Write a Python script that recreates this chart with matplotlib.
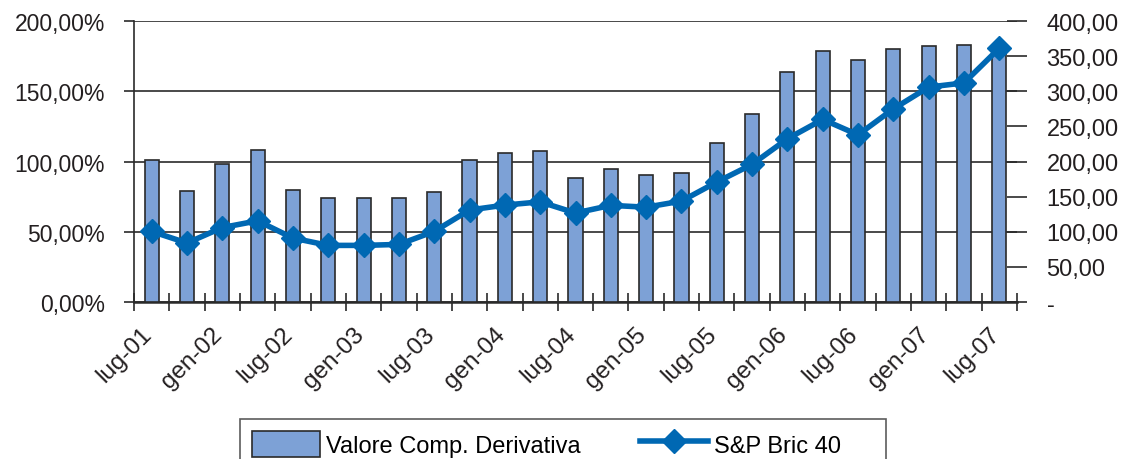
import matplotlib.pyplot as plt
from matplotlib.lines import Line2D
from matplotlib.patches import Patch
from matplotlib.transforms import ScaledTranslation

plt.rcParams['font.family'] = ['Liberation Sans', 'DejaVu Sans']

# quarterly data, lug-01 .. lug-07
derivativa = [101, 78.7, 98, 108.3, 80, 74, 73.7, 74, 78.4, 101.4, 106.4, 107.8,
              88.2, 94.9, 90.6, 92, 112.9, 134, 164, 178.6, 172, 180, 182.6, 183, 181]
bric = [100.5, 84, 106, 115.6, 91, 80.6, 80.6, 82, 100.5, 131, 138, 142.6,
        126.7, 137.6, 135, 143.7, 170.8, 196, 232.4, 260, 238, 275, 306, 312, 361.5]
date_labels = ['lug-01', 'gen-02', 'lug-02', 'gen-03', 'lug-03', 'gen-04', 'lug-04',
               'gen-05', 'lug-05', 'gen-06', 'lug-06', 'gen-07', 'lug-07']
left_ticks = [0, 50, 100, 150, 200]
left_labels = ['0,00%', '50,00%', '100,00%', '150,00%', '200,00%']
right_ticks = [0, 50, 100, 150, 200, 250, 300, 350, 400]
right_labels = ['-', '50,00', '100,00', '150,00', '200,00', '250,00', '300,00', '350,00', '400,00']

bar_color = '#7da1d6'
line_color = '#0068b3'
text_color = '#231f20'
dark = '#2a2a2a'

fig = plt.figure(figsize=(11.29, 4.6), dpi=100)
ax = fig.add_axes([0.1187, 0.3413, 0.7821, 0.6107])
ax2 = ax.twinx()

x = list(range(len(derivativa)))
ax.bar(x, derivativa, width=0.4, color=bar_color, edgecolor=dark, linewidth=1.2, zorder=3)
ax.set_xlim(-0.5, len(x) - 0.5)
ax.set_ylim(0, 200)
ax.set_yticks(left_ticks)
ax.set_yticklabels(left_labels)
ax.yaxis.grid(True, color=dark, linewidth=1.2, zorder=0)
ax.set_axisbelow(True)

ax2.plot(x, bric, color=line_color, linewidth=4, marker='D', markersize=12,
         markeredgecolor=line_color, zorder=5)
ax2.set_ylim(0, 400)
ax2.set_yticks(right_ticks)
ax2.set_yticklabels(right_labels)

# x axis: labels every two quarters, ticks at category boundaries
ax.set_xticks(list(range(0, len(x), 2)))
ax.set_xticklabels(date_labels, rotation=45, ha='right', va='top', rotation_mode='anchor')
ax.set_xticks([i - 0.5 for i in range(len(x) + 1)], minor=True)
ax.tick_params(axis='x', which='major', length=0, pad=15, labelsize=17.5, colors=text_color)
ax.tick_params(axis='x', which='minor', length=13, width=1.2, direction='inout', color=dark)
ax.tick_params(axis='y', length=7, width=1.2, direction='out', labelsize=16.5,
               colors=text_color, color=dark, pad=14)
ax2.tick_params(axis='y', length=14.5, width=1.2, direction='inout', labelsize=17,
                colors=text_color, color=dark, pad=14)
shift = ScaledTranslation(-0.11, 0, fig.dpi_scale_trans)
for lab in ax.get_xticklabels():
    lab.set_transform(lab.get_transform() + shift)

for s in ['top', 'right']:
    ax.spines[s].set_visible(False)
for s in ['top', 'right', 'left']:
    ax2.spines[s].set_visible(False)
ax.spines['left'].set_linewidth(1.2)
ax.spines['left'].set_color(dark)
ax.spines['bottom'].set_linewidth(1.8)
ax.spines['bottom'].set_color(dark)
ax2.spines['bottom'].set_visible(False)

handles = [Patch(facecolor=bar_color, edgecolor=dark, linewidth=1.2),
           Line2D([], [], color=line_color, linewidth=4, marker='D', markersize=12)]
leg = fig.legend(handles, ['Valore Comp. Derivativa', 'S&P Bric 40     '], loc='upper left',
                 bbox_to_anchor=(0.2126, 0.087), ncol=2, frameon=True, fancybox=False,
                 fontsize=17, handlelength=2.9, handleheight=1.3, columnspacing=2.5,
                 borderpad=0.5, handletextpad=0.25, borderaxespad=0)
leg.get_frame().set_edgecolor('#333333')
leg.get_frame().set_linewidth(1.2)

fig.savefig('out.png', dpi=100)
